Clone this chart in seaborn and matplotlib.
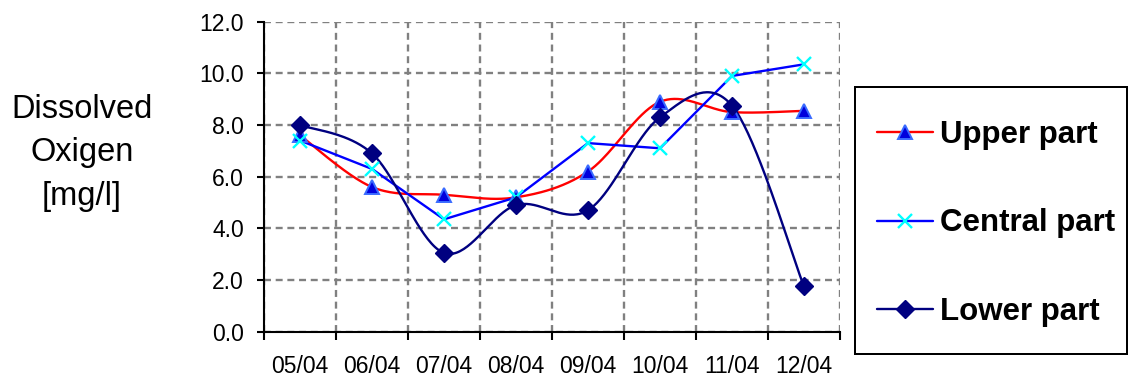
import numpy as np
import matplotlib
matplotlib.use('Agg')
import matplotlib.pyplot as plt
import seaborn as sns
from matplotlib.patches import Rectangle
from matplotlib.lines import Line2D

dates = ['05/04', '06/04', '07/04', '08/04', '09/04', '10/04', '11/04', '12/04']
upper = [7.6, 5.6, 5.3, 5.2, 6.2, 8.9, 8.5, 8.55]
central = [7.4, 6.3, 4.35, 5.2, 7.3, 7.1, 9.9, 10.35]
lower = [8.0, 6.9, 3.05, 4.9, 4.7, 8.3, 8.75, 1.75]
series_names = ['Upper part', 'Central part', 'Lower part']
y_ticks = [0, 2, 4, 6, 8, 10, 12]

sns.set_theme(style='white')
plt.rcParams['font.family'] = ['Liberation Sans', 'DejaVu Sans']
plt.rcParams['text.color'] = 'black'


def smooth(y, n=40):
    """Excel-like smoothed line (cubic Bezier through the read points)."""
    P = np.column_stack([np.arange(len(y), dtype=float), np.asarray(y, float)])
    out = []
    for i in range(len(P) - 1):
        p0 = P[i - 1] if i > 0 else P[i]
        p1, p2 = P[i], P[i + 1]
        p3 = P[i + 2] if i + 2 < len(P) else P[i + 1]
        c1 = p1 + (p2 - p0) / 6.0
        c2 = p2 - (p3 - p1) / 6.0
        t = np.linspace(0, 1, n, endpoint=(i == len(P) - 2))[:, None]
        out.append((1 - t) ** 3 * p1 + 3 * (1 - t) ** 2 * t * c1 + 3 * (1 - t) * t ** 2 * c2 + t ** 3 * p2)
    out = np.vstack(out)
    return out[:, 0], out[:, 1]


W, H = 1128, 378
fig = plt.figure(figsize=(W / 100, H / 100), dpi=100)
ax = fig.add_axes([264 / W, 46.3 / H, 576 / W, 310 / H])

x = np.arange(len(dates))
lw = 1.7

# Upper part: smoothed red line, blue triangles
sx, sy = smooth(upper)
sns.lineplot(x=sx, y=sy, ax=ax, color='#FF0000', lw=lw, sort=False, estimator=None, zorder=3)
# Central part: straight blue line, cyan x
sns.lineplot(x=x, y=central, ax=ax, color='#0000FF', lw=lw, sort=False, estimator=None, zorder=3)
# Lower part: smoothed navy line, navy diamonds
sx, sy = smooth(lower)
sns.lineplot(x=sx, y=sy, ax=ax, color='#000080', lw=lw, sort=False, estimator=None, zorder=3)

tri = dict(marker='^', ms=10.5, mfc='#0000DD', mec='#3A6BFF', mew=1.4)
crs = dict(marker='x', ms=10.5, mec='#00FFFF', mew=1.7)
dia = dict(marker='D', ms=9, mfc='#000080', mec='#000080', mew=1)
ax.plot(x, upper, ls='none', zorder=4, **tri)
ax.plot(x, central, ls='none', zorder=5, **crs)
ax.plot(x, lower, ls='none', zorder=6, **dia)

ax.set_xlim(-0.5, len(dates) - 0.5)
ax.set_ylim(0, 12)
ax.set_xticks(np.arange(-0.5, len(dates), 1.0))
ax.set_xticklabels([])
ax.set_xticks(x, minor=True)
ax.set_xticklabels(dates, minor=True)
ax.set_yticks(y_ticks)
ax.set_yticklabels([f'{v:.1f}' for v in y_ticks])

ax.tick_params(axis='x', which='major', direction='out', length=5.5, width=1.5, color='black', bottom=True)
ax.tick_params(axis='x', which='minor', length=0, pad=16.5, labelsize=16.5, labelcolor='black', bottom=True)
ax.tick_params(axis='y', which='major', direction='out', length=5, width=1.5, color='black', pad=9.5,
               labelsize=16.5, labelcolor='black', left=True)

ax.set_axisbelow(True)
ax.grid(True, which='major', axis='both', color='#808080', lw=1.7, ls=(0, (2.95, 2.0)))
for s in ['top', 'right']:
    ax.spines[s].set_visible(False)
for s in ['left', 'bottom']:
    ax.spines[s].set_color('black')
    ax.spines[s].set_linewidth(1.5)
ax.set_xlabel('')
ax.set_ylabel('')

fig.text(82 / W, 1 - 153 / H, 'Dissolved\nOxigen\n[mg/l]', ha='center', va='center',
         fontsize=23.5, linespacing=1.5, color='black')

# legend box
fig.patches.append(Rectangle((855 / W, (H - 354) / H), (1126.5 - 855) / W, (354 - 87) / H,
                             transform=fig.transFigure, fill=False, edgecolor='black', lw=1.44))
handles = [
    Line2D([], [], color='#FF0000', lw=lw, **tri),
    Line2D([], [], color='#0000FF', lw=lw, **crs),
    Line2D([], [], color='#000080', lw=lw, **dia),
]
fig.legend(handles, series_names, loc='center left', bbox_to_anchor=(877 / W, 1 - 223.5 / H),
           frameon=False, borderpad=0, borderaxespad=0, handlelength=1.8, handletextpad=0.2,
           labelspacing=1.86, labelcolor='black', prop={'weight': 'bold', 'size': 22.5})

fig.savefig('out.png', dpi=100)
